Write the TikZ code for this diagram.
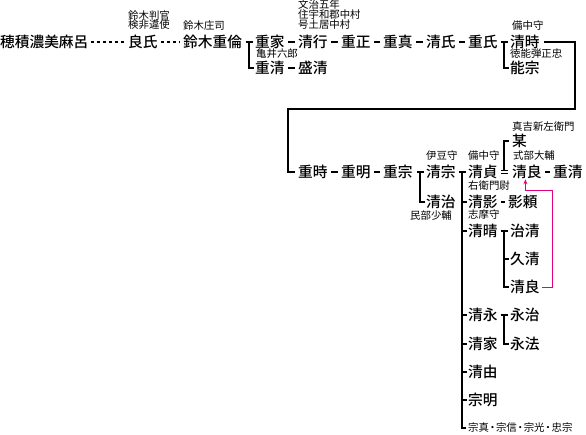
\documentclass[tikz,border=0pt]{standalone}
\usepackage{fontspec}
\setmainfont{Noto Sans CJK JP}
\newfontfamily\namefont{Noto Sans CJK JP Medium}
\usetikzlibrary{arrows.meta}
\definecolor{pinkline}{HTML}{E4007F}
\newcommand\mdot{\makebox[7pt]{・}}
\begin{document}
\begin{tikzpicture}[x=1pt,y=-1pt,
  person/.style={anchor=west,inner sep=0pt,font=\fontsize{14.7}{16}\selectfont\namefont,text height=12.2pt,text depth=1pt},
  lab/.style={anchor=west,inner sep=0pt,font=\fontsize{10.4}{11}\selectfont,text height=8.6pt,text depth=0.7pt},
  conn/.style={line width=2pt},
  link/.style={line width=2pt,shorten <=3.5pt,shorten >=3.5pt},
  dots/.style={line width=2pt,dash pattern=on 3pt off 3pt},
  adopt/.style={draw=pinkline,line width=1pt,-{Stealth[length=5pt,width=4pt]}}
]
\useasboundingbox (0,0) rectangle (586,434);

% row 1
\node[person] (hozumi) at (0,41.5) {穂積濃美麻呂};
\node[person] (yoshiuji) at (128,41.5) {良氏};
\node[person] (shigetomo) at (183,41.5) {鈴木重倫};
\node[person] (shigeie) at (255,41.5) {重家};
\node[person] (shigekiyoA) at (255,67.5) {重清};
\node[person] (morikiyo) at (298,67.5) {盛清};
\node[person] (kiyoyuki) at (298,41.5) {清行};
\node[person] (shigemasa) at (341,41.5) {重正};
\node[person] (shigezane) at (383,41.5) {重真};
\node[person] (kiyouji) at (426,41.5) {清氏};
\node[person] (shigeuji) at (468,41.5) {重氏};
\node[person] (kiyotoki) at (510,41.5) {清時};
\node[person] (yoshimune) at (510,67.5) {能宗};

% row 2
\node[person] (shigetoki) at (298,172) {重時};
\node[person] (shigeaki) at (341,172) {重明};
\node[person] (shigemune) at (383,172) {重宗};
\node[person] (kiyomune) at (426,172) {清宗};
\node[person] (kiyoharuA) at (426,201.5) {清治};
\node[person] (kiyosada) at (468,172) {清貞};
\node[person] (bou) at (512,141) {某};
\node[person] (kiyoyoshiA) at (512,172) {清良};
\node[person] (shigekiyoB) at (553,172) {重清};
\node[person] (kiyokage) at (468,201.5) {清影};
\node[person] (kageyori) at (508,201.5) {影頼};
\node[person] (kiyoharuB) at (468,230.5) {清晴};
\node[person] (harukiyo) at (510,230.5) {治清};
\node[person] (hisakiyo) at (510,259) {久清};
\node[person] (kiyoyoshiB) at (510,287) {清良};
\node[person] (kiyonaga) at (468,315) {清永};
\node[person] (nagaharu) at (510,315) {永治};
\node[person] (naganori) at (510,343.5) {永法};
\node[person] (kiyoie) at (468,343.5) {清家};
\node[person] (kiyoyoshiC) at (468,371.5) {清由};
\node[person] (muneaki) at (468,399.5) {宗明};
\node[lab] (others) at (468,428) {宗真\mdot 宗信\mdot 宗光\mdot 忠宗};

% labels
\node[lab] (l1) at (128,16) {鈴木判官};
\node[lab] (l2) at (128,25) {検非違使};
\node[lab] (l3) at (183,26) {鈴木庄司};
\node[lab] (l4) at (298,5) {文治五年};
\node[lab] (l5) at (298,15) {住宇和郡中村};
\node[lab] (l6) at (298,24.5) {号土居中村};
\node[lab] (l7) at (256,54) {亀井六郎};
\node[lab] (l8) at (512,25.5) {備中守};
\node[lab] (l9) at (510,54) {徳能弾正忠};
\node[lab] (l10) at (426,156) {伊豆守};
\node[lab] (l11) at (468,156) {備中守};
\node[lab] (l12) at (410,215.5) {民部少輔};
\node[lab] (l13) at (512,127) {真吉新左衛門};
\node[lab] (l14) at (513,156) {式部大輔};
\node[lab] (l15) at (468,185.5) {右衛門尉};
\node[lab] (l16) at (468,214.5) {志摩守};

% dotted
\draw[dots] ([xshift=2pt]hozumi.east) -- ([xshift=-3pt]yoshiuji.west);
\draw[dots] ([xshift=3pt]yoshiuji.east) -- ([xshift=-3pt]shigetomo.west);

% short links
\draw[link] (shigeie) -- (kiyoyuki);
\draw[link] (kiyoyuki) -- (shigemasa);
\draw[link] (shigemasa) -- (shigezane);
\draw[link] (shigezane) -- (kiyouji);
\draw[link] (kiyouji) -- (shigeuji);
\draw[link] (shigekiyoA) -- (morikiyo);
\draw[link] (shigetoki) -- (shigeaki);
\draw[link] (shigeaki) -- (shigemune);
\draw[link] (kiyoyoshiA) -- (shigekiyoB);
\draw[link,shorten <=3pt,shorten >=3pt] (kiyokage) -- (kageyori);

% brackets
\draw[conn] ([xshift=-9.5pt]shigeie.west) -- ([xshift=-2.5pt]shigeie.west);
\draw[conn] ([xshift=-6pt]shigeie.west) |- ([xshift=-1.5pt]shigekiyoA.west);

\draw[conn] ([xshift=-9.5pt]kiyotoki.west) -- ([xshift=-2.5pt]kiyotoki.west);
\draw[conn] ([xshift=-6pt]kiyotoki.west) |- ([xshift=-1.5pt]yoshimune.west);

\draw[conn] ([xshift=-9.5pt]kiyomune.west) -- ([xshift=-2.5pt]kiyomune.west);
\draw[conn] ([xshift=-6pt]kiyomune.west) |- ([xshift=-1.5pt]kiyoharuA.west);

\draw[conn] ([xshift=-9.5pt]kiyosada.west) -- ([xshift=-2.5pt]kiyosada.west);
\draw[conn] ([xshift=-6pt]kiyosada.west) |- ([xshift=-2pt]others.west);
\foreach \c in {kiyokage,kiyoharuB,kiyonaga,kiyoie,kiyoyoshiC,muneaki}
  \draw[conn] ([xshift=-6pt]kiyosada.west |- \c.west) -- ([xshift=-1.5pt]\c.west);

\draw[conn] ([xshift=-9.5pt]harukiyo.west) -- ([xshift=-2.5pt]harukiyo.west);
\draw[conn] ([xshift=-6pt]harukiyo.west) |- ([xshift=-1.5pt]kiyoyoshiB.west);
\draw[conn] ([xshift=-6pt]harukiyo.west |- hisakiyo.west) -- ([xshift=-1.5pt]hisakiyo.west);

\draw[conn] ([xshift=-9.5pt]nagaharu.west) -- ([xshift=-2.5pt]nagaharu.west);
\draw[conn] ([xshift=-6pt]nagaharu.west) |- ([xshift=-1.5pt]naganori.west);

% adoption double line and bracket to 某
\draw[line width=1.3pt] ([xshift=3pt,yshift=1.8pt]kiyosada.east) -- ([xshift=-4.5pt,yshift=1.8pt]kiyoyoshiA.west);
\draw[line width=1.3pt] ([xshift=3pt,yshift=-1.8pt]kiyosada.east) -- ([xshift=-4.5pt,yshift=-1.8pt]kiyoyoshiA.west);
\draw[conn] ([xshift=-8pt,yshift=1.2pt]kiyoyoshiA.west) |- ([xshift=-3.5pt]bou.west);

% long connector
\coordinate (tr) at (575,109);
\coordinate (tl) at (288,109);
\draw[conn,line join=miter] ([xshift=4pt]kiyotoki.east) -| (tr) -- (tl) |- ([xshift=-3pt]shigetoki.west);

% pink arrow
\coordinate (pk) at (552,190);
\draw[adopt] ([xshift=2pt]kiyoyoshiB.east) -| (pk) -| ([xshift=-1.5pt,yshift=-0.5pt]kiyoyoshiA.south);
\end{tikzpicture}
\end{document}
